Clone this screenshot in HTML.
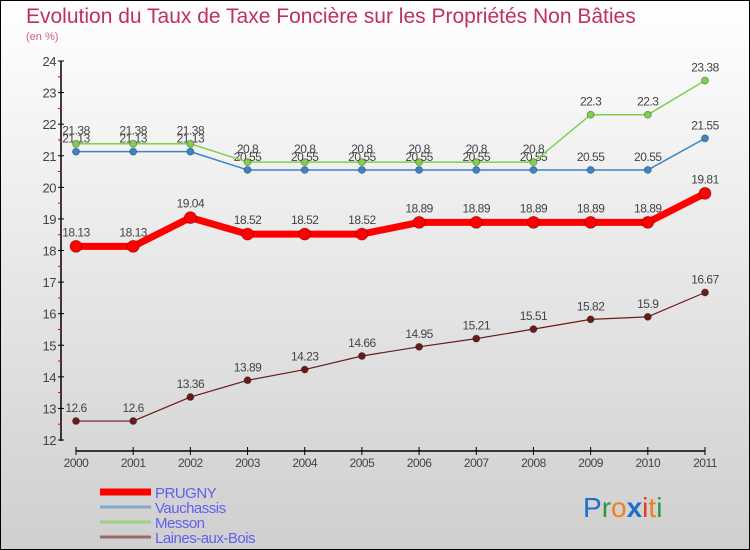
<!DOCTYPE html>
<html><head><meta charset="utf-8"><style>
body{margin:0}
#c{width:750px;height:550px;position:relative;overflow:hidden;font-family:"Liberation Sans",sans-serif}
</style></head><body>
<div id="c">
<svg id="s" width="750" height="550" xmlns="http://www.w3.org/2000/svg">
<defs><linearGradient id="bg" x1="0" y1="0" x2="0" y2="1"><stop offset="0" stop-color="#ffffff"/><stop offset="1" stop-color="#cfcfcf"/></linearGradient></defs>
<rect x="0.5" y="0.5" width="749" height="549" fill="url(#bg)" stroke="#000"/>
<text x="26" y="23" font-size="21" fill="#c0305a">Evolution du Taux de Taxe Foncière sur les Propriétés Non Bâties</text>
<text x="26" y="40" font-size="11" fill="#d06080">(en %)</text>
<g id="axes"></g><g id="series"></g><g id="legend"></g>
<text x="583" y="517" font-size="28" font-family="Liberation Sans, sans-serif"><tspan fill="#1e6fc8">P</tspan><tspan fill="#2a9a40">r</tspan><tspan fill="#f08020">o</tspan><tspan fill="#1e6fc8" font-weight="bold">x</tspan><tspan fill="#e04020">i</tspan><tspan fill="#f08020">t</tspan><tspan fill="#2a9a40">i</tspan></text>
</svg>
</div>
<script>
const years=[2000,2001,2002,2003,2004,2005,2006,2007,2008,2009,2010,2011];
const prugny=[18.13,18.13,19.04,18.52,18.52,18.52,18.89,18.89,18.89,18.89,18.89,19.81];
const vauchassis=[21.13,21.13,21.13,20.55,20.55,20.55,20.55,20.55,20.55,20.55,20.55,21.55];
const messon=[21.38,21.38,21.38,20.8,20.8,20.8,20.8,20.8,20.8,22.3,22.3,23.38];
const laines=[12.6,12.6,13.36,13.89,14.23,14.66,14.95,15.21,15.51,15.82,15.9,16.67];
const yTicks=[12,13,14,15,16,17,18,19,20,21,22,23,24];
const NS="http://www.w3.org/2000/svg";
const x=i=>76+i*(705-76)/11;
const y=v=>440-(v-12)*(440-61)/12;
function mk(tag,attrs,parent){const e=document.createElementNS(NS,tag);for(const k in attrs)e.setAttribute(k,attrs[k]);parent.appendChild(e);return e;}
const ax=document.getElementById('axes');
let l=mk('line',{x1:61,y1:61,x2:61,y2:441,stroke:'#000','stroke-width':1.5},ax);


l=mk('line',{x1:76,y1:451,x2:705,y2:451,stroke:'#000','stroke-width':1.5},ax);


yTicks.forEach((t,i)=>{
  mk('line',{x1:58,y1:y(t),x2:64,y2:y(t),stroke:'#000'},ax);
  if(i<yTicks.length-1) mk('line',{x1:58,y1:y(t+0.5),x2:61,y2:y(t+0.5),stroke:'#e00000'},ax);
  const tx=mk('text',{x:56,y:y(t)+5,'font-size':13,fill:'#444','text-anchor':'end','letter-spacing':'-0.5'},ax);tx.textContent=t;
  
  
});
years.forEach((yr,i)=>{
  mk('line',{x1:x(i),y1:447,x2:x(i),y2:455,stroke:'#000'},ax);
  const tx=mk('text',{x:x(i),y:467,'font-size':12,fill:'#444','text-anchor':'middle','letter-spacing':'-0.5'},ax);tx.textContent=yr;
  
  
});
const sg=document.getElementById('series');
function series(vals,color,w,r,name,dy){
  const g=mk('g',{},sg);
  
  
  mk('polyline',{points:vals.map((v,i)=>x(i)+','+y(v)).join(' '),fill:'none',stroke:color,'stroke-width':w,'stroke-linejoin':'round'},g);
  vals.forEach((v,i)=>{
    const c=mk('circle',{cx:x(i),cy:y(v),r:r,fill:color,stroke:'rgba(0,0,0,0.3)','stroke-width':1},g);
    
    
    const t=mk('text',{x:x(i),y:y(v)+dy,'font-size':12,fill:'#444','text-anchor':'middle','letter-spacing':'-0.5'},g);
    t.textContent=String(v);
    
    
  });
}
series(laines,'#6b1a1a',1.2,3.5,'laines-aux-bois-series',-9);
series(vauchassis,'#3a85c8',1.5,3.5,'vauchassis-series',-9);
series(messon,'#80d050',1.5,3.5,'messon-series',-9);
series(prugny,'#ff0000',7,6,'prugny-series',-10);
const lg=document.getElementById('legend');
const lnames=['PRUGNY','Vauchassis','Messon','Laines-aux-Bois'];
const lcolors=['#ff0000','#80a8c8','#a0d080','#9a6a6a'];
const lw=[7,3,3,3];
lnames.forEach((n,i)=>{
  const yy=492+i*15;
  const g=mk('g',{},lg);
  
  
  mk('line',{x1:100,y1:yy,x2:151,y2:yy,stroke:lcolors[i],'stroke-width':lw[i]},g);
  const t=mk('text',{x:155,y:yy+6,'font-size':15,fill:'#6060f0','letter-spacing':'-0.5'},g);t.textContent=n;
});
</script>
</body></html>
